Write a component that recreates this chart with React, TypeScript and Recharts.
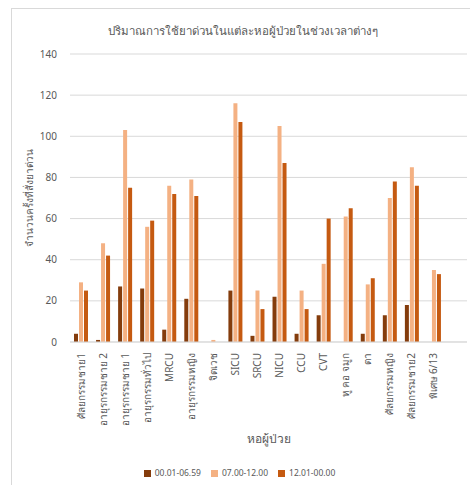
import React from 'react';
import { BarChart, Bar, XAxis, YAxis, CartesianGrid, Legend, Label } from 'recharts';

const categories = [
  'ศัลยกรรมชาย1',
  'อายุรกรรมชาย 2',
  'อายุรกรรมชาย 1',
  'อายุรกรรมทั่วไป',
  'MRCU',
  'อายุรกรรมหญิง',
  'จิตเวช',
  'SICU',
  'SRCU',
  'NICU',
  'CCU',
  'CVT',
  'หู คอ จมูก',
  'ตา',
  'ศัลยกรรมหญิง',
  'ศัลยกรรมชาย2',
  'พิเศษ 6/13',
];

const night = [4, 1, 27, 26, 6, 21, 0, 25, 3, 22, 4, 13, 0, 4, 13, 18, 0];
const morning = [29, 48, 103, 56, 76, 79, 1, 116, 25, 105, 25, 38, 61, 28, 70, 85, 35];
const evening = [25, 42, 75, 59, 72, 71, 0, 107, 16, 87, 16, 60, 65, 31, 78, 76, 33];

const yTicks = [0, 20, 40, 60, 80, 100, 120, 140];

const FONT = "'Noto Sans', 'DejaVu Sans', sans-serif";
const TEXT = '#595959';

const data = categories.map((name, i) => ({
  name,
  night: night[i],
  morning: morning[i],
  evening: evening[i],
}));

const RotatedTick = ({ x, y, payload }: any) => (
  <g transform={`translate(${x},${y})`}>
    <text
      transform="rotate(-90)"
      textAnchor="end"
      dy="0.35em"
      fontSize={10}
      fill={TEXT}
      fontFamily={FONT}
    >
      {payload.value}
    </text>
  </g>
);

const App = () => {
  return (
    <div style={{ position: 'relative', width: 470, height: 485, fontFamily: FONT }}>
      <style>{`body { margin: 0; overflow: hidden; }`}</style>
      <div
        style={{
          position: 'absolute',
          left: 11,
          top: 8,
          width: 480,
          height: 490,
          borderTop: '1px solid #d9d9d9',
          borderLeft: '1px solid #d9d9d9',
        }}
      />
      <div
        style={{
          position: 'absolute',
          left: 11,
          width: 464,
          top: 22,
          textAlign: 'center',
          fontSize: 11.5,
          color: TEXT,
        }}
      >
        ปริมาณการใช้ยาด่วนในแต่ละหอผู้ป่วยในช่วงเวลาต่างๆ
      </div>
      <div style={{ position: 'absolute', left: 0, top: 0 }}>
        <BarChart
          width={470}
          height={485}
          data={data}
          margin={{ top: 54, right: 3, left: 0, bottom: 5 }}
          barSize={4}
          barGap={1}
        >
          <CartesianGrid vertical={false} stroke="#d9d9d9" />
          <XAxis
            dataKey="name"
            interval={0}
            height={110}
            tick={<RotatedTick />}
            tickLine={false}
            tickMargin={5}
            axisLine={{ stroke: '#d9d9d9' }}
            padding={{ left: 0, right: 22 }}
          >
            <Label
              content={({ viewBox }: any) => (
                <text
                  x={viewBox.x + viewBox.width / 2}
                  y={viewBox.y + 101}
                  textAnchor="middle"
                  fontSize={12}
                  fill={TEXT}
                  fontFamily={FONT}
                >
                  หอผู้ป่วย
                </text>
              )}
            />
          </XAxis>
          <YAxis
            width={70}
            domain={[0, 140]}
            ticks={yTicks}
            axisLine={false}
            tickLine={false}
            tickMargin={7}
            tick={{ fontSize: 10, fill: TEXT, fontFamily: FONT }}
          >
            <Label
              content={({ viewBox }: any) => {
                const cx = viewBox.x + 29;
                const cy = viewBox.y + viewBox.height / 2;
                return (
                  <text
                    x={cx}
                    y={cy}
                    transform={`rotate(-90, ${cx}, ${cy})`}
                    textAnchor="middle"
                    dominantBaseline="central"
                    fontSize={10}
                    fill={TEXT}
                    fontFamily={FONT}
                  >
                    จำนวนครั้งที่สั่งยาด่วน
                  </text>
                );
              }}
            />
          </YAxis>
          <Legend
            verticalAlign="bottom"
            height={28}
            iconType="square"
            iconSize={7}
            wrapperStyle={{ left: 19, width: 451, top: 467, fontSize: 8.5, fontFamily: FONT }}
            formatter={(value: string) => <span style={{ color: TEXT }}>{value}</span>}
          />
          <Bar dataKey="night" name="00.01-06.59" fill="#843C0C" isAnimationActive={false} />
          <Bar dataKey="morning" name="07.00-12.00" fill="#F4B183" isAnimationActive={false} />
          <Bar dataKey="evening" name="12.01-00.00" fill="#C55A11" isAnimationActive={false} />
        </BarChart>
      </div>
    </div>
  );
};

export default App;
